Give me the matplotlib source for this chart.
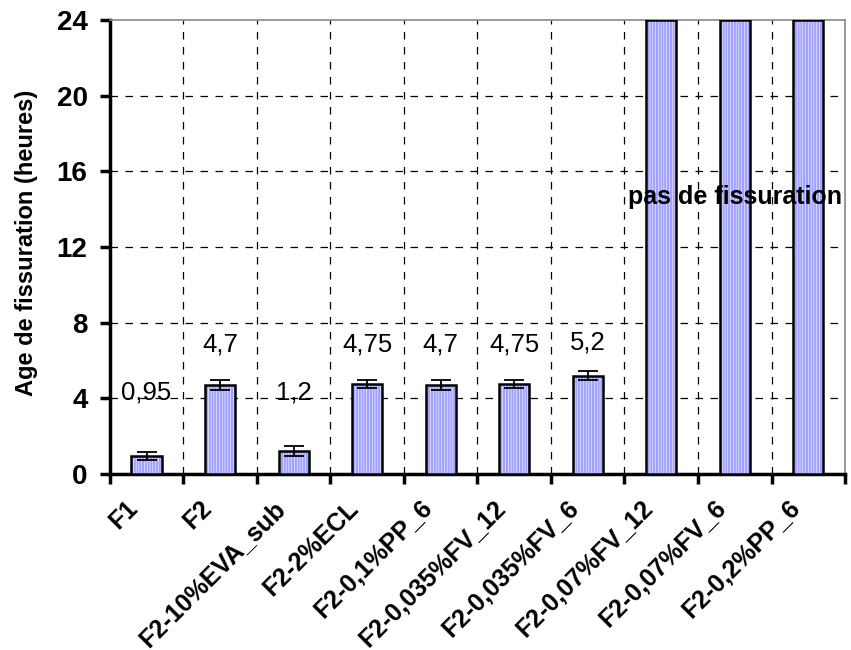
import matplotlib
matplotlib.use("Agg")
import matplotlib.pyplot as plt
import matplotlib.transforms as mtransforms
import numpy as np

categories = ["F1", "F2", "F2-10%EVA_sub", "F2-2%ECL", "F2-0,1%PP_6",
              "F2-0,035%FV_12", "F2-0,035%FV_6", "F2-0,07%FV_12",
              "F2-0,07%FV_6", "F2-0,2%PP_6"]
values = [0.95, 4.7, 1.2, 4.75, 4.7, 4.75, 5.2, 24, 24, 24]
errors = [0.23, 0.28, 0.25, 0.22, 0.25, 0.2, 0.25, 0, 0, 0]
value_labels = ["0,95", "4,7", "1,2", "4,75", "4,7", "4,75", "5,2", None, None, None]
label_levels = [3.95, 6.45, 3.95, 6.45, 6.45, 6.45, 6.6, None, None, None]
yticks = [0, 4, 8, 12, 16, 20, 24]

plt.rcParams['font.family'] = ['Liberation Sans', 'DejaVu Sans']
plt.rcParams['hatch.linewidth'] = 1.6

fig = plt.figure(figsize=(8.51, 6.5), dpi=100)
ax = fig.add_axes([0.129, 0.271, 0.864, 0.698])

x = np.arange(len(categories))
w = 0.41
ax.bar(x, values, width=w, color='white', edgecolor='#a0a0ff', hatch='||||||', linewidth=0, zorder=3)
ax.bar(x, values, width=w, fill=False, edgecolor='black', linewidth=1.8, zorder=4)
ax.errorbar(x[:7], values[:7], yerr=errors[:7], fmt='none', ecolor='black',
            elinewidth=1.3, capsize=7, capthick=1.3, zorder=5)

for xi, lab, ly in zip(x, value_labels, label_levels):
    if lab is not None:
        ax.text(xi, ly, lab, ha='center', va='baseline', fontsize=18.5, zorder=6)

ax.text(8.0, 14.27, "pas de fissuration", ha='center', va='baseline', fontsize=18,
        fontweight='bold', zorder=6)

ax.set_xlim(-0.5, len(categories) - 0.5)
ax.set_ylim(0, 24)
ax.set_yticks(yticks)
ax.set_yticklabels([str(t) for t in yticks], fontsize=20, fontweight='bold')

# boundary ticks on x
bounds = np.arange(len(categories) + 1) - 0.5
ax.set_xticks(bounds)
ax.set_xticklabels([])
ax.set_xticks(x, minor=True)
ax.set_xticklabels(categories, minor=True, rotation=45, ha='right', va='center',
                   rotation_mode='anchor', fontsize=18, fontweight='bold')
ax.tick_params(axis='x', which='minor', length=0, pad=22)
ax.tick_params(axis='x', which='major', length=7, width=2.5, direction='out')
ax.tick_params(axis='y', length=7, width=2.5, direction='out', pad=9)
shift = mtransforms.ScaledTranslation(-0.12, 0, fig.dpi_scale_trans)
for lbl in ax.get_xticklabels(minor=True):
    lbl.set_transform(lbl.get_transform() + shift)

# grid
for b in bounds[1:-1]:
    ax.axvline(b, color='black', linestyle=(0, (6, 6)), linewidth=0.9, zorder=1)
for t in yticks[1:-1]:
    ax.axhline(t, color='black', linestyle=(0, (6, 6)), linewidth=0.9, zorder=1)

ax.spines['left'].set_linewidth(2.5)
ax.spines['bottom'].set_linewidth(2.5)
ax.spines['top'].set_color('#888888')
ax.spines['right'].set_color('#888888')
ax.spines['top'].set_linewidth(1.2)
ax.spines['right'].set_linewidth(1.2)

ax.set_ylabel("Age de fissuration (heures)", fontsize=17, fontweight='bold')
ax.yaxis.set_label_coords(-0.098, 0.51)

fig.savefig("out.png", dpi=100)
